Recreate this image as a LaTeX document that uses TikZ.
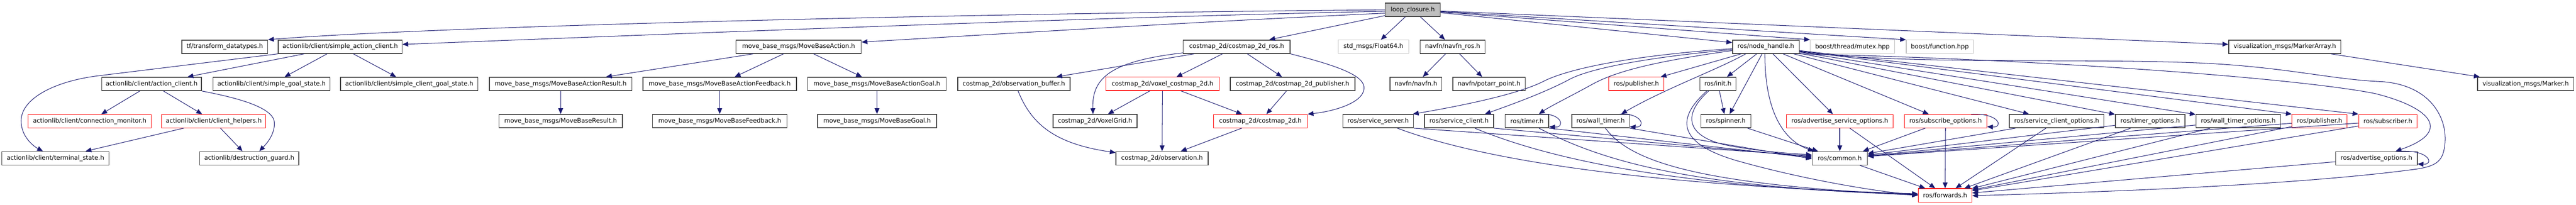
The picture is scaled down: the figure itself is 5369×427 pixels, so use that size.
\documentclass[tikz,border=0pt]{standalone}
\usepackage{fontspec}
\setmainfont{DejaVu Sans}
\usetikzlibrary{arrows.meta,calc}
\definecolor{edgec}{RGB}{25,25,112}
\definecolor{boxc}{RGB}{64,64,64}
\definecolor{lightg}{RGB}{191,191,191}
\newcommand{\fsz}{\fontsize{12.8pt}{15pt}\selectfont}
\newcommand{\selfloop}[2]{\draw[dep] ($(#1.north east)+(-#2,0)$) .. controls ($(#1.north east)+(27,-2)$) and ($(#1.south east)+(34,-1)$) .. ($(#1.south east)+(0,-3)$);}
\begin{document}
\begin{tikzpicture}[x=1pt,y=-1pt,
  nb/.style={draw=boxc,line width=1.6pt,rectangle,minimum height=28pt,inner sep=0pt,font=\fsz,text=black,fill=white},
  nr/.style={nb,draw=red,line width=1.1pt},
  ng/.style={nb,draw=lightg,line width=1.3pt},
  dep/.style={draw=edgec,line width=1.1pt,-{Triangle[length=12pt,width=10pt]}}]
\useasboundingbox (0,0) rectangle (5369,427);
% row 0
\node[nb,fill=lightg,minimum width=115pt] (lc) at (2944.5,20.5) {loop\_closure.h};
% row 1
\node[nb,minimum width=179pt] (tf) at (468.5,97.5) {tf/transform\_datatypes.h};
\node[nb,minimum width=258pt] (sac) at (709,97.5) {actionlib/client/simple\_action\_client.h};
\node[nb,minimum width=261pt] (mba) at (1664.5,97.5) {move\_base\_msgs/MoveBaseAction.h};
\node[nb,minimum width=223pt] (cros) at (2577.5,97.5) {costmap\_2d/costmap\_2d\_ros.h};
\node[ng,minimum width=147pt] (f64) at (2862.5,97.5) {std\_msgs/Float64.h};
\node[nb,minimum width=135pt] (nfr) at (3027.5,97.5) {navfn/navfn\_ros.h};
\node[nb,minimum width=139pt] (nh) at (3680.5,97.5) {ros/node\_handle.h};
\node[ng,minimum width=176pt] (mtx) at (3861,97.5) {boost/thread/mutex.hpp};
\node[ng,minimum width=140pt] (fn) at (4043,97.5) {boost/function.hpp};
\node[nb,minimum width=234pt] (ma) at (4762,97.5) {visualization\_msgs/MarkerArray.h};
% row 2
\node[nb,minimum width=208pt] (ac) at (316,175) {actionlib/client/action\_client.h};
\node[nb,minimum width=244pt] (sgs) at (566,175) {actionlib/client/simple\_goal\_state.h};
\node[nb,minimum width=286pt] (scgs) at (853,175) {actionlib/client/simple\_client\_goal\_state.h};
\node[nb,minimum width=297pt] (mbar) at (1168.5,175) {move\_base\_msgs/MoveBaseActionResult.h};
\node[nb,minimum width=320pt] (mbaf) at (1500,175) {move\_base\_msgs/MoveBaseActionFeedback.h};
\node[nb,minimum width=289pt] (mbag) at (1827.5,175) {move\_base\_msgs/MoveBaseActionGoal.h};
\node[nb,minimum width=234pt] (obuf) at (2113,175) {costmap\_2d/observation\_buffer.h};
\node[nr,minimum width=236pt] (vox) at (2423,175) {costmap\_2d/voxel\_costmap\_2d.h};
\node[nb,minimum width=260pt] (cpub) at (2694,175) {costmap\_2d/costmap\_2d\_publisher.h};
\node[nb,minimum width=108pt] (nf) at (2951,175) {navfn/navfn.h};
\node[nb,minimum width=151pt] (pp) at (3103.5,175) {navfn/potarr\_point.h};
\node[nr,minimum width=115pt] (pubA) at (3410.5,175) {ros/publisher.h};
\node[nb,minimum width=75pt] (init) at (3580.5,175) {ros/init.h};
\node[nb,minimum width=200pt] (mk) at (5264,175) {visualization\_msgs/Marker.h};
% row 3
\node[nr,minimum width=256pt] (cm) at (187,252.5) {actionlib/client/connection\_monitor.h};
\node[nr,minimum width=217pt] (ch) at (445.5,252.5) {actionlib/client/client\_helpers.h};
\node[nb,minimum width=257pt] (mbr) at (1168.5,252.5) {move\_base\_msgs/MoveBaseResult.h};
\node[nb,minimum width=280pt] (mbf) at (1500,252.5) {move\_base\_msgs/MoveBaseFeedback.h};
\node[nb,minimum width=248pt] (mbg) at (1828,252.5) {move\_base\_msgs/MoveBaseGoal.h};
\node[nb,minimum width=175pt] (vg) at (2282.5,252.5) {costmap\_2d/VoxelGrid.h};
\node[nr,minimum width=196pt] (ctd) at (2627,252.5) {costmap\_2d/costmap\_2d.h};
\node[nb,minimum width=147pt] (ss) at (2872.5,252.5) {ros/service\_server.h};
\node[nb,minimum width=144pt] (sc) at (3041,252.5) {ros/service\_client.h};
\node[nb,minimum width=91pt] (tm) at (3182.5,252.5) {ros/timer.h};
\node[nb,minimum width=120pt] (wt) at (3336,252.5) {ros/wall\_timer.h};
\node[nb,minimum width=104pt] (sp) at (3597,252.5) {ros/spinner.h};
\node[nr,minimum width=223pt] (aso) at (3834.5,252.5) {ros/advertise\_service\_options.h};
\node[nr,minimum width=172pt] (so) at (4055,252.5) {ros/subscribe\_options.h};
\node[nb,minimum width=197pt] (sco) at (4286.5,252.5) {ros/service\_client\_options.h};
\node[nb,minimum width=145pt] (tmo) at (4481.5,252.5) {ros/timer\_options.h};
\node[nb,minimum width=176pt] (wto) at (4665,252.5) {ros/wall\_timer\_options.h};
\node[nr,minimum width=115pt] (pubB) at (4834.5,252.5) {ros/publisher.h};
\node[nr,minimum width=122pt] (sub) at (4977,252.5) {ros/subscriber.h};
% row 4
\node[nb,minimum width=223pt] (ts) at (115.5,330) {actionlib/client/terminal\_state.h};
\node[nb,minimum width=207pt] (dg) at (519.5,330) {actionlib/destruction\_guard.h};
\node[nb,minimum width=192pt] (obs) at (2422,330) {costmap\_2d/observation.h};
\node[nb,minimum width=115pt] (cmn) at (3834.5,330) {ros/common.h};
\node[nb,minimum width=170pt] (ao) at (4953,330) {ros/advertise\_options.h};
% row 5
\node[nr,minimum width=112pt] (fw) at (4054,407) {ros/forwards.h};

% edges from loop_closure
\draw[dep] (lc.west) .. controls (2000,28) and (900,55) .. (tf.north east);
\draw[dep] ($(lc.west)+(0,3)$) .. controls (2200,38) and (1300,75) .. ($(sac.east)+(0,-5)$);
\draw[dep] ($(lc.west)+(0,7)$) .. controls (2500,45) and (2100,70) .. ($(mba.north east)+(0,5)$);
\draw[dep] (lc) -- ($(cros.north)+(68,0)$);
\draw[dep] (lc) -- (f64);
\draw[dep] (lc) -- (nfr);
\draw[dep] (lc) -- ($(nh.north west)+(0,6)$);
\draw[dep] (lc) -- (mtx.north west);
\draw[dep] (lc) -- (fn.north west);
\draw[dep] (lc) -- ($(ma.west)+(0,-5)$);

% actionlib
\draw[dep] (sac) -- (ac);
\draw[dep] (sac) -- (sgs);
\draw[dep] (sac) -- (scgs);
\draw[dep] (sac.south west) -- (205,158) .. controls (115,169) and (44,205) .. (44,252) .. controls (44,285) and (70,305) .. ($(ts.north)+(-26,0)$);
\draw[dep] (ac) -- (cm);
\draw[dep] (ac) -- (ch);
\draw[dep] (ac.south east) .. controls (500,205) and (572,225) .. (572,257) .. controls (572,282) and (555,300) .. ($(dg.north)+(21,0)$);
\draw[dep] (ch) -- (ts);
\draw[dep] (ch) -- (dg);

% move_base_msgs
\draw[dep] (mba) -- (mbar);
\draw[dep] (mba) -- (mbaf);
\draw[dep] (mba) -- (mbag);
\draw[dep] (mbar) -- (mbr);
\draw[dep] (mbaf) -- (mbf);
\draw[dep] (mbag) -- (mbg);

% costmap
\draw[dep] (cros) -- (obuf);
\draw[dep] ($(cros.south west)+(0,-2)$) .. controls (2310,128) and (2276,165) .. ($(vg.north)+(-4.5,0)$);
\draw[dep] (cros) -- (vox);
\draw[dep] (cros) -- (cpub);
\draw[dep] (cros.south east) .. controls (2800,140) and (2845,160) .. (2843,185) .. controls (2840,215) and (2780,232) .. (ctd.north east);
\draw[dep] (cpub) -- (ctd);
\draw[dep] (vox) -- (vg);
\draw[dep] (vox) -- (obs);
\draw[dep] (vox) -- (ctd);
\draw[dep] (ctd) -- (obs);
\draw[dep] ($(obuf.south)+(9,0)$) .. controls (2150,260) and (2200,300) .. ($(obs.north west)+(0,3)$);

% navfn
\draw[dep] (nfr) -- (nf);
\draw[dep] (nfr) -- (pp);
\draw[dep] (ma) -- (mk);

% node_handle
\draw[dep] ($(nh.west)+(0,4)$) .. controls (3450,112) and (3290,135) .. (3220,168) .. controls (3170,195) and (3050,220) .. ($(ss.north east)+(-2,0)$);
\draw[dep] ($(nh.west)+(0,6)$) .. controls (3450,118) and (3320,140) .. (3272,165) .. controls (3220,193) and (3150,218) .. ($(sc.north)+(54,0)$);
\draw[dep] ($(nh.west)+(0,8)$) .. controls (3450,128) and (3370,148) .. (3320,175) .. controls (3275,200) and (3230,222) .. ($(tm.north)+(25,0)$);
\draw[dep] ($(nh.south)+(-42,0)$) .. controls (3580,145) and (3470,185) .. ($(wt.north)+(43,0)$);
\draw[dep] (nh) -- (pubA);
\draw[dep] (nh) -- (init);
\draw[dep] (nh) -- (sp);
\draw[dep] ($(nh.south)+(-2,0)$) .. controls (3678,220) and (3710,290) .. ($(cmn.north west)+(4,0)$);
\draw[dep] (nh) -- (aso);
\draw[dep] (nh) -- (so);
\draw[dep] (nh) -- (sco);
\draw[dep] (nh) -- (tmo);
\draw[dep] (nh) -- (wto);
\draw[dep] (nh) -- (pubB.north west);
\draw[dep] (nh) -- (sub.north west);
\draw[dep] (nh.south east) .. controls (4300,125) and (4800,165) .. (4950,195) .. controls (5070,225) and (5110,275) .. ($(ao.north)+(40,0)$);
\draw[dep] ($(nh.east)+(0,10)$) .. controls (3950,135) and (4300,122) .. (4550,130) .. controls (4750,136) and (4850,165) .. (4960,170) .. controls (5060,175) and (5100,240) .. (5096,297) .. controls (5093,335) and (5080,345) .. (5040,352) .. controls (4800,385) and (4400,400) .. ($(fw.east)+(0,1)$);

% init / spinner
\draw[dep] (init) -- (sp);
\draw[dep] ($(init.south west)+(19,0)$) .. controls (3505,240) and (3515,285) .. (3600,303) .. controls (3680,318) and (3740,320) .. ($(cmn.west)+(0,-7)$);
\draw[dep] ($(init.south west)+(15,0)$) .. controls (3490,250) and (3500,300) .. (3620,335) .. controls (3750,372) and (3900,398) .. (fw.west);
\draw[dep] (sp) -- (cmn);

% row 3 left -> common / forwards
\draw[dep] (ss.south east) -- ($(cmn.west)+(0,-5)$);
\draw[dep] (sc.south east) -- ($(cmn.west)+(0,-3)$);
\draw[dep] (tm.south east) -- ($(cmn.west)+(0,-1)$);
\draw[dep] (wt.south east) -- ($(cmn.west)+(0,1)$);
\draw[dep] ($(ss.south)+(40,0)$) .. controls (3080,330) and (3400,385) .. ($(fw.west)+(0,-3)$);
\draw[dep] ($(sc.south)+(33,0)$) .. controls (3200,320) and (3450,390) .. ($(fw.west)+(0,-2)$);
\draw[dep] ($(tm.south)+(25,0)$) .. controls (3330,330) and (3500,390) .. ($(fw.west)+(0,-1)$);
\draw[dep] ($(wt.south)+(10,0)$) .. controls (3400,340) and (3550,385) .. (fw.west);
\selfloop{tm}{18}
\selfloop{wt}{21}

% row 3 right -> common / forwards
\draw[dep] (aso) -- (cmn);
\draw[dep] (aso) -- (fw);
\draw[dep] ($(so.south)+(-42,0)$) -- ($(cmn.north east)+(-10,0)$);
\draw[dep] (so) -- (fw);
\selfloop{so}{33}
\draw[dep] (sco) -- (cmn);
\draw[dep] (sco) -- (fw);
\draw[dep] (tmo) -- (cmn);
\draw[dep] (tmo) -- (fw);
\draw[dep] (wto) -- (cmn);
\draw[dep] (wto) -- (fw);
\draw[dep] (pubB) -- (cmn);
\draw[dep] (pubB) -- (fw);
\draw[dep] (sub) -- (cmn);
\draw[dep] (sub) -- (fw);
\draw[dep] (ao) -- (fw);
\selfloop{ao}{34}
\draw[dep] (cmn) -- (fw);
\end{tikzpicture}
\end{document}
